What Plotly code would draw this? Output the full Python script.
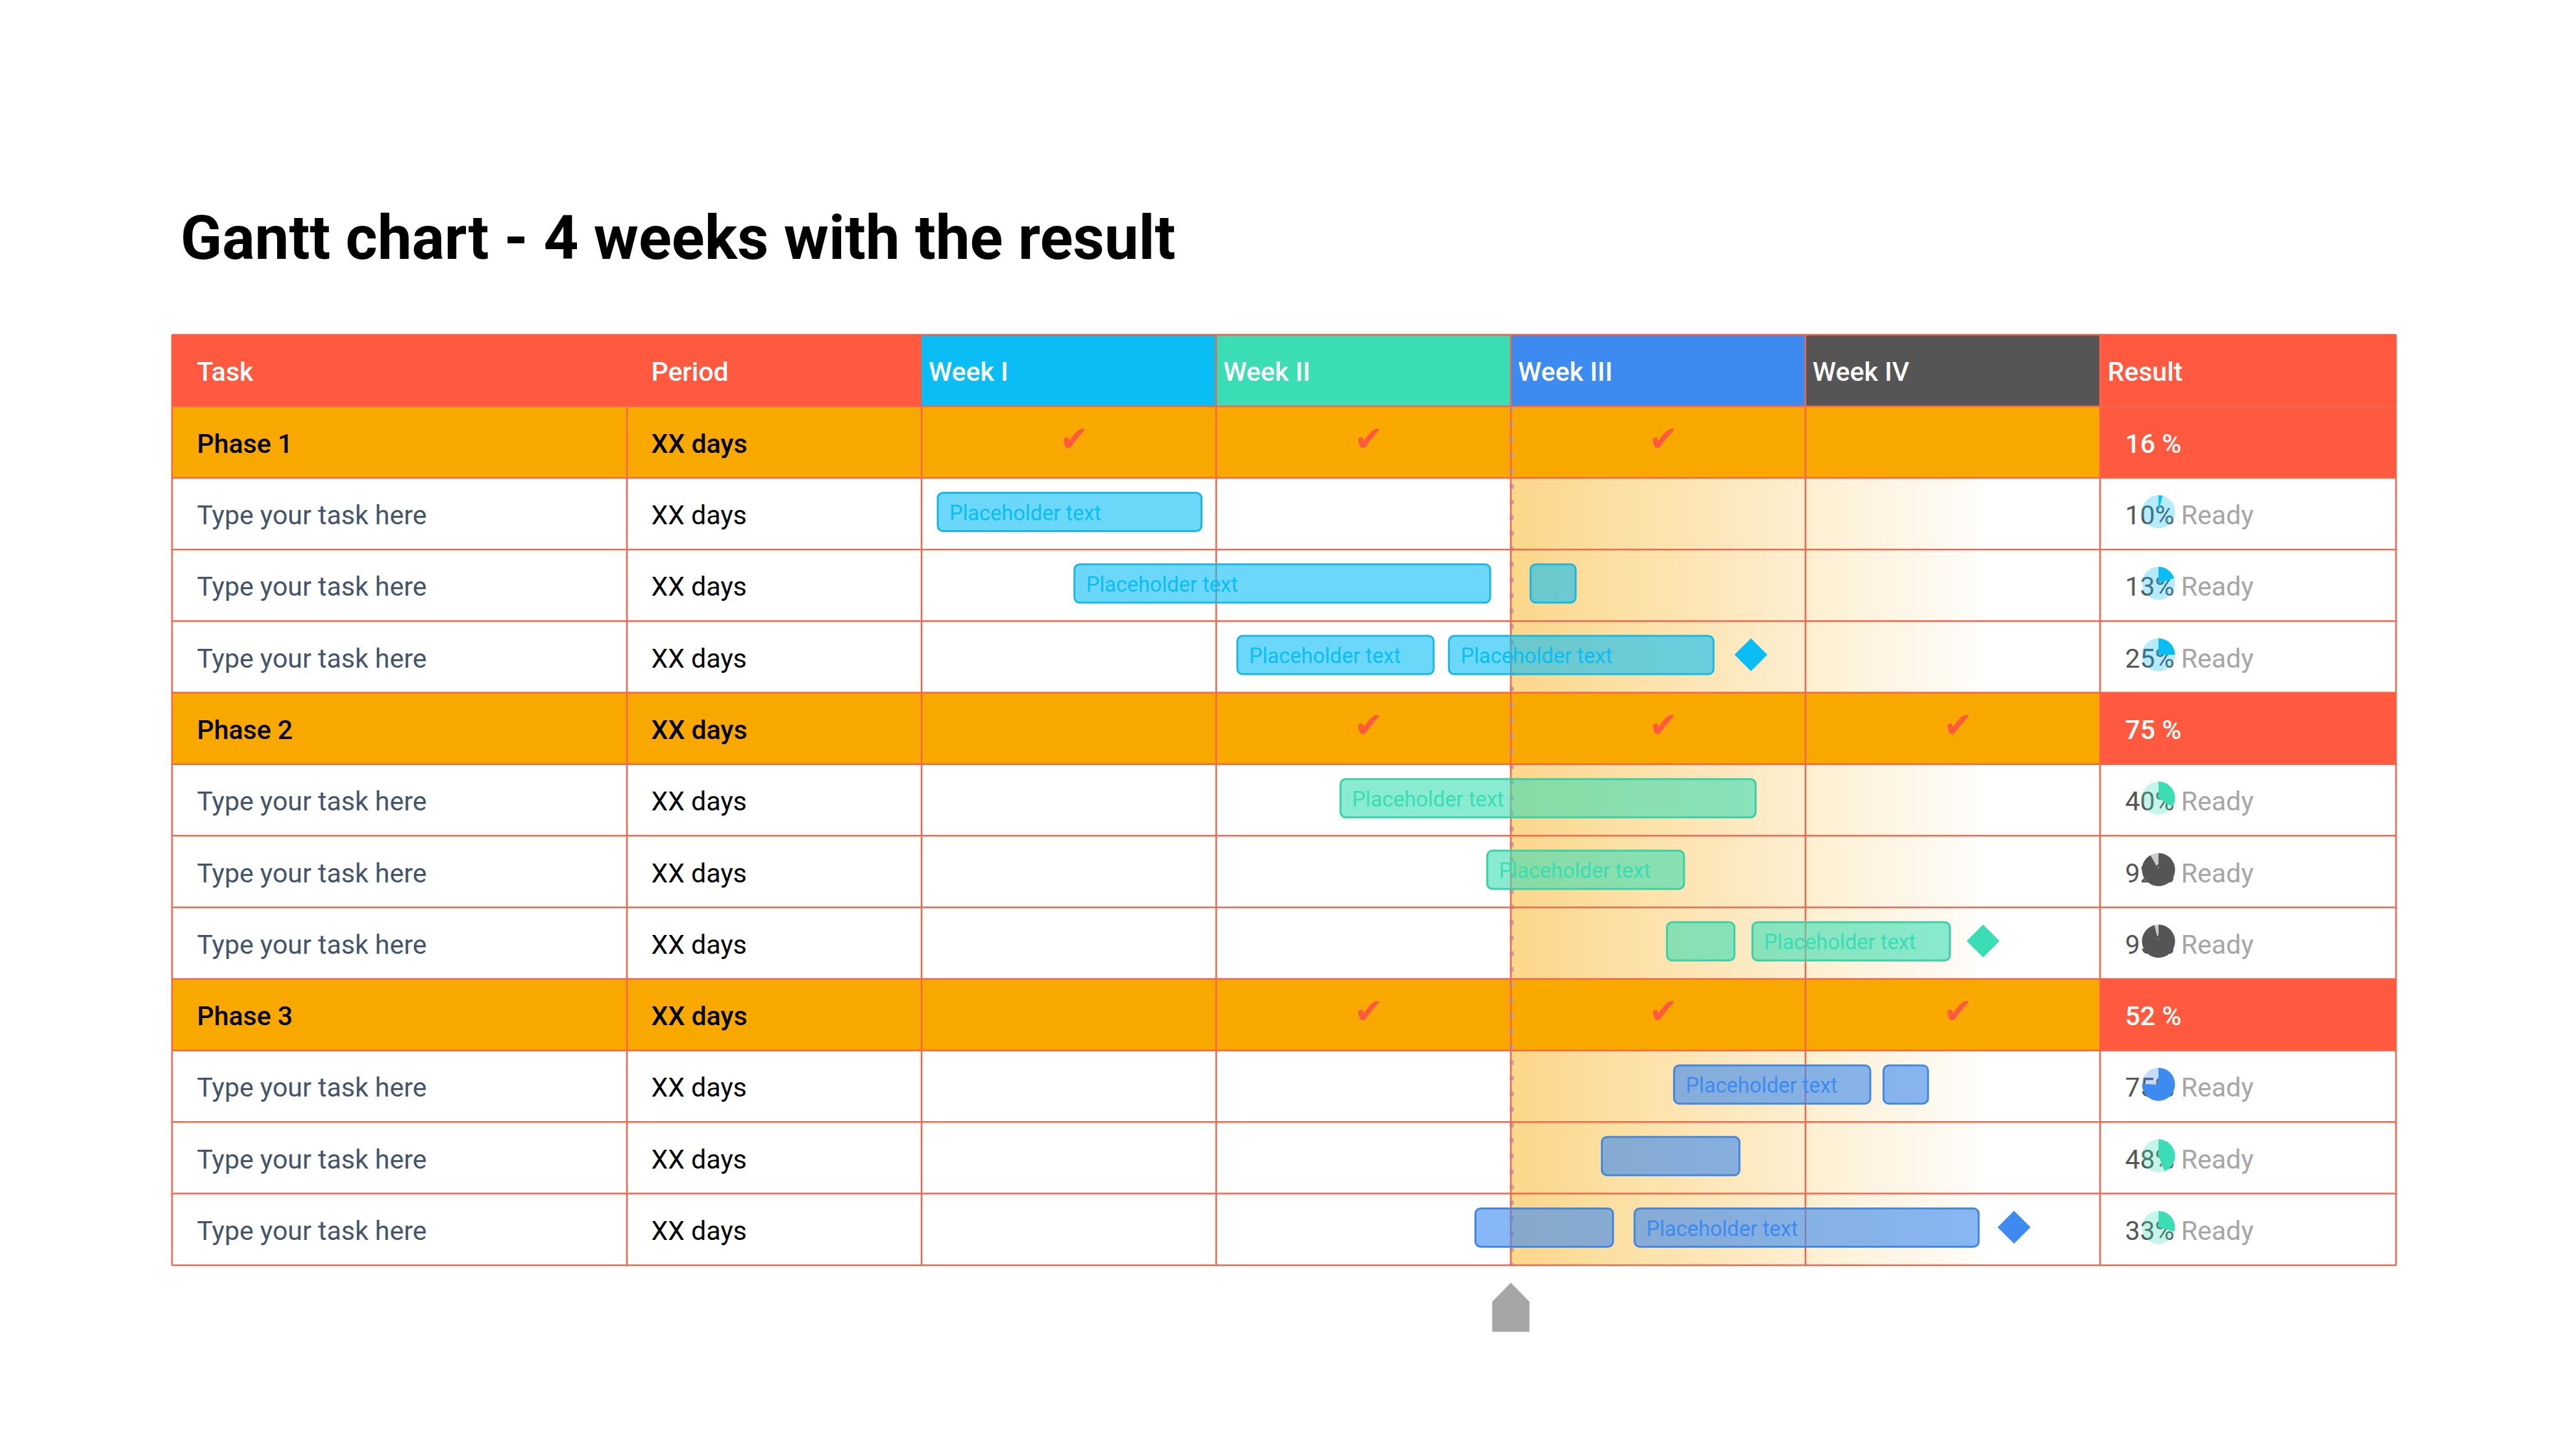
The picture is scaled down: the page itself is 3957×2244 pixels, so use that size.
import plotly.graph_objects as go

# ---------- data ----------
title = "Gantt chart - 4 weeks with the result"
header_fixed = ["Task", "Period"]
week_labels = ["Week I", "Week II", "Week III", "Week IV"]
result_header = "Result"
row_labels = ["Phase 1", "Type your task here", "Type your task here", "Type your task here",
              "Phase 2", "Type your task here", "Type your task here", "Type your task here",
              "Phase 3", "Type your task here", "Type your task here", "Type your task here"]
period_labels = ["XX days"] * 12
phase_rows = [1, 5, 9]
phase_results = ["16 %", "75 %", "52 %"]
phase_checks = [[0, 1, 2], [1, 2, 3], [1, 2, 3]]

pie_rows = [2, 3, 4, 6, 7, 8, 10, 11, 12]
pie_labels = ["10%", "13%", "25%", "40%", "92%", "95%", "75%", "48%", "33%"]
pie_values = [4, 20, 25, 34, 92, 96, 75, 44, 29]
pie_groups = ["cyan", "cyan", "cyan", "green", "dark", "dark", "blue", "green", "green"]

bar_rows = {"cyan": [2, 3, 3, 4, 4], "green": [6, 7, 8, 8], "blue": [10, 10, 11, 12, 12]}
bar_start = {"cyan": [0.055, 0.519, 2.067, 1.072, 1.790],
             "green": [1.422, 1.920, 2.530, 2.820],
             "blue": [2.554, 3.265, 2.309, 1.880, 2.420]}
bar_end = {"cyan": [0.950, 1.930, 2.220, 1.738, 2.688],
           "green": [2.831, 2.588, 2.759, 3.490],
           "blue": [3.220, 3.416, 2.776, 2.347, 3.588]}
bar_labels = {"cyan": ["Placeholder text", "Placeholder text", "", "Placeholder text", "Placeholder text"],
              "green": ["Placeholder text", "Placeholder text", "", "Placeholder text"],
              "blue": ["Placeholder text", "", "", "", "Placeholder text"]}
milestone_x = {"cyan": [2.815], "green": [3.603], "blue": [3.708]}
milestone_row = {"cyan": [4], "green": [8], "blue": [12]}
today_week = 2.0

# ---------- layout constants ----------
W, H = 3957, 2244
WEEK_PX, ROW_PX = 454.0, 110.3
X0_PX, Y0_PX = 1420.0, 516.0
FONT = "Roboto"
RED, ORANGE, GRID = "#FF5A40", "#F9A800", "#F4664C"
TASK_C, VALUE_C, READY_C = "#44546A", "#555555", "#A6A6A6"
week_colors = ["#0ABEF5", "#3ADDB4", "#3D8BF0", "#555555"]
solid = {"cyan": "#0ABEF5", "green": "#3ADDB4", "blue": "#3D8BF0", "dark": "#555555"}
light = {"cyan": "rgba(10,190,245,0.3)", "green": "rgba(58,221,180,0.3)",
         "blue": "rgba(61,139,240,0.3)", "dark": "rgba(85,85,85,0.3)"}
bar_fill = {"cyan": "rgba(10,190,245,0.6)", "green": "rgba(58,221,180,0.6)", "blue": "rgba(61,139,240,0.62)"}
bar_line = {"cyan": "#1DB7E0", "green": "#3CCFA8", "blue": "#4387DE"}


def wk(px):
    return px / WEEK_PX


COL_TASK, COL_PERIOD, COL_RESULT, COL_RIGHT = wk(265 - X0_PX), wk(966 - X0_PX), 4.0, wk(3692 - X0_PX)
N_ROWS = 13

shapes = []


def rect(x0, x1, y0, y1, color):
    shapes.append(dict(type="rect", xref="x", yref="y", x0=x0, x1=x1, y0=y0, y1=y1,
                       fillcolor=color, line=dict(width=0), layer="below"))


def line(x0, x1, y0, y1, color=GRID, width=2.5, dash=None):
    ln = dict(color=color, width=width)
    if dash:
        ln["dash"] = dash
    shapes.append(dict(type="line", xref="x", yref="y", x0=x0, x1=x1, y0=y0, y1=y1, line=ln, layer="below"))


# gradient bands over the task rows
GRAD_END = wk(3044 - X0_PX)
STEPS = 40
blocks = [(2, 5), (6, 9), (10, 13)]
for i in range(STEPS):
    a0 = 0.45 + (0.03 - 0.45) * i / (STEPS - 1)
    col = "rgb(%d,%d,%d)" % (255 + (249 - 255) * a0, 255 + (168 - 255) * a0, 255 + (0 - 255) * a0)
    xa = today_week + (GRAD_END - today_week) * i / STEPS
    xb = today_week + (GRAD_END - today_week) * (i + 1.15) / STEPS
    for b in blocks:
        rect(min(xa, GRAD_END), min(xb, GRAD_END), b[0], b[1], col)

# header + phase fills
rect(COL_TASK, 0, 0, 1, RED)
for i, c in enumerate(week_colors):
    rect(i, i + 1, 0, 1, c)
rect(COL_RESULT, COL_RIGHT, 0, 2, RED)
for r in phase_rows:
    rect(COL_TASK, COL_RESULT, r, r + 1, ORANGE)
    if r != 1:
        rect(COL_RESULT, COL_RIGHT, r, r + 1, RED)

# today dotted marker line
line(today_week + wk(1.5), today_week + wk(1.5), 1, N_ROWS, color="#ABABAB", width=6, dash="7px,17px")

# grid
for r in range(1, N_ROWS + 1):
    line(COL_TASK, COL_RIGHT, r, r)
line(COL_TASK, COL_RIGHT, 0, 0, color=RED)
for x in [COL_TASK, COL_RIGHT]:
    line(x, x, 0, N_ROWS)
for x in [COL_PERIOD, 0]:
    line(x, x, 1, N_ROWS)
for x in [1, 2, 3, 4]:
    line(x, x, 0, N_ROWS)

fig = go.Figure()

# bars
for g in ["cyan", "green", "blue"]:
    fig.add_trace(go.Bar(
        orientation="h",
        y=[r + 0.475 for r in bar_rows[g]],
        base=bar_start[g],
        x=[e - s for s, e in zip(bar_start[g], bar_end[g])],
        width=0.535,
        marker=dict(color=bar_fill[g], line=dict(color=bar_line[g], width=3)),
        hoverinfo="skip",
    ))


def add_text(xs, ys, texts, color, size, weight=400, pos="middle right", font=FONT):
    fig.add_trace(go.Scatter(
        x=xs, y=ys, text=texts, mode="text", textposition=pos,
        textfont=dict(family=font, color=color, size=size, weight=weight),
        hoverinfo="skip",
    ))


TXT_DY = 0.555
LABEL_SIZE = 41
TXT_TASK, TXT_PERIOD = wk(303.5 - X0_PX), wk(1003.5 - X0_PX)
# header text
add_text([TXT_TASK, TXT_PERIOD], [TXT_DY, TXT_DY], header_fixed, "white", LABEL_SIZE, 500)
add_text([wk(11), 1 + wk(11), 2 + wk(11), 3 + wk(11)], [TXT_DY] * 4, week_labels, "white", LABEL_SIZE, 500)
add_text([4 + wk(11.5)], [TXT_DY], [result_header], "white", LABEL_SIZE, 500)

# left columns
rows = list(range(1, 13))
plain = [r for r in rows if r not in phase_rows]
add_text([TXT_TASK] * len(plain), [r + TXT_DY for r in plain],
         [row_labels[r - 1] for r in plain], TASK_C, LABEL_SIZE)
add_text([TXT_TASK] * 3, [r + TXT_DY for r in phase_rows],
         [row_labels[r - 1] for r in phase_rows], "#000000", LABEL_SIZE, 500)
add_text([TXT_PERIOD] * len(plain), [r + TXT_DY for r in plain],
         [period_labels[r - 1] for r in plain], "#000000", LABEL_SIZE)
add_text([TXT_PERIOD] * 3, [r + TXT_DY for r in phase_rows],
         [period_labels[r - 1] for r in phase_rows], "#000000", LABEL_SIZE, 500)

# phase results
add_text([4 + wk(38.5)] * 3, [r + TXT_DY for r in phase_rows], phase_results, "white", LABEL_SIZE, 500)

# row results, pies sit above them
res = ["%s <span style='color:%s'>Ready</span>" % (t, READY_C) for t in pie_labels]
add_text([4 + wk(38.5)] * len(pie_rows), [r + TXT_DY for r in pie_rows], res, VALUE_C, LABEL_SIZE)

# checks
cx, cy = [], []
for r, weeks in zip(phase_rows, phase_checks):
    for w in weeks:
        cx.append(w + 0.5 + wk(8))
        cy.append(r + 0.5)
add_text(cx, cy, ["\u2714"] * len(cx), RED, 54, pos="middle center", font="DejaVu Sans")

# bar labels
for g in ["cyan", "green", "blue"]:
    xs, ys, ts = [], [], []
    for r, s, t in zip(bar_rows[g], bar_start[g], bar_labels[g]):
        if t:
            xs.append(s + wk(18))
            ys.append(r + 0.515)
            ts.append(t)
    add_text(xs, ys, ts, solid[g], 32.5)
    fig.add_trace(go.Scatter(
        x=milestone_x[g], y=[r + 0.47 for r in milestone_row[g]], mode="markers",
        marker=dict(symbol="diamond", size=39, color=solid[g], line=dict(width=0)),
        hoverinfo="skip",
    ))

# today arrow
half = wk(28.7)
fig.add_trace(go.Scatter(
    x=[today_week - half, today_week - half, today_week, today_week + half, today_week + half, today_week - half],
    y=[13.93, 13.51, 13.246, 13.51, 13.93, 13.93],
    mode="lines", fill="toself", fillcolor="#A6A6A6", line=dict(width=0), hoverinfo="skip",
))

# result pies
PIE_CX, PIE_D = 3326.0, 51.0
for r, v, g in zip(pie_rows, pie_values, pie_groups):
    cy_px = Y0_PX + (r + 0.5) * ROW_PX - 3
    fig.add_trace(go.Pie(
        values=[v, 100 - v], sort=False, direction="clockwise", rotation=0,
        marker=dict(colors=[solid[g], light[g]], line=dict(width=0)),
        textinfo="none", hoverinfo="skip", showlegend=False,
        domain=dict(x=[(PIE_CX - PIE_D / 2) / W, (PIE_CX + PIE_D / 2) / W],
                    y=[1 - (cy_px + PIE_D / 2) / H, 1 - (cy_px - PIE_D / 2) / H]),
    ))

fig.update_layout(
    width=W, height=H, margin=dict(l=0, r=0, t=0, b=0),
    paper_bgcolor="white", plot_bgcolor="white", showlegend=False,
    barmode="overlay", barcornerradius=8,
    shapes=shapes,
    title=dict(text=title, x=278 / W, xanchor="left", xref="paper", y=1 - 366 / H, yanchor="middle", yref="paper",
               pad=dict(l=0, r=0, t=0, b=0),
               font=dict(family=FONT, size=94.2, color="#000000", weight=700)),
    xaxis=dict(visible=False, range=[-X0_PX / WEEK_PX, (W - X0_PX) / WEEK_PX], domain=[0, 1], fixedrange=True),
    yaxis=dict(visible=False, range=[(H - Y0_PX) / ROW_PX, -Y0_PX / ROW_PX], domain=[0, 1], fixedrange=True),
)

fig.write_html("out.html", config=dict(displayModeBar=False),
               post_script="document.body.style.margin='0';")
